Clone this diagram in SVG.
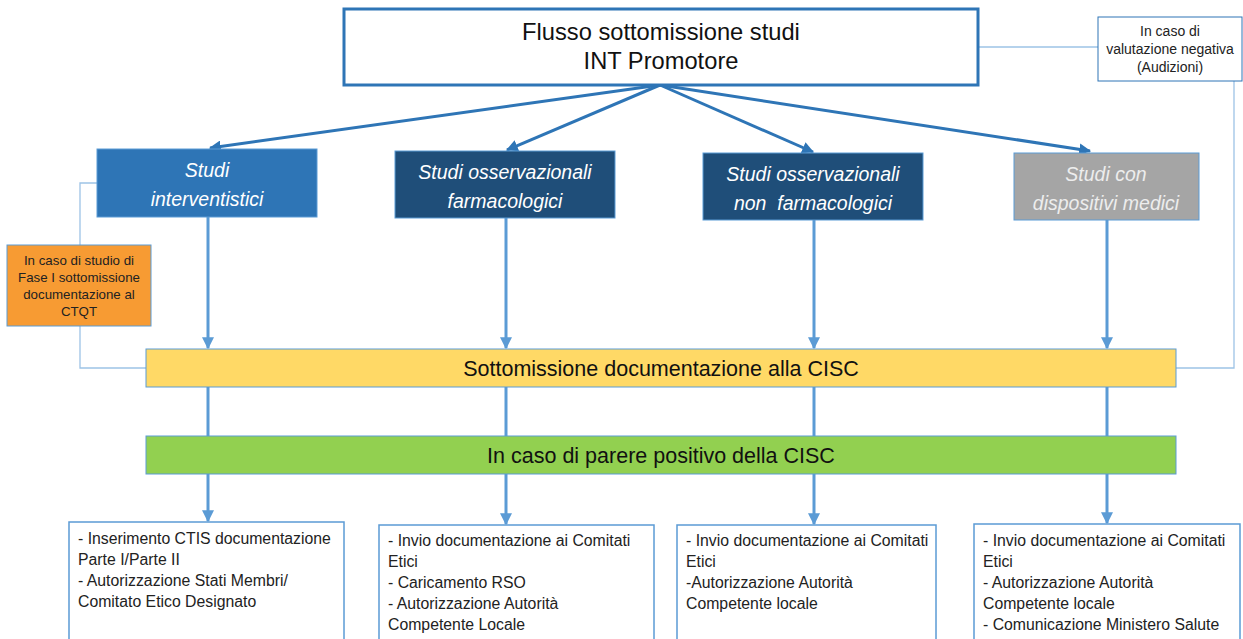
<svg xmlns="http://www.w3.org/2000/svg" width="1243" height="639" viewBox="0 0 1243 639">
<style>
.t{font-family:"Liberation Sans",Arial,sans-serif;}
.it{font-family:"Liberation Sans",Arial,sans-serif;font-style:italic;font-size:19.5px;fill:#fff;text-anchor:middle;}
.thin{fill:none;stroke:#9DC3E6;stroke-width:1.3;}
.top{fill:none;stroke:#2E75B6;stroke-width:3;}
.vert{fill:none;stroke:#5B9BD5;stroke-width:3;}
.box{fill:#fff;stroke:#5B9BD5;stroke-width:1.5;}
.bt{font-family:"Liberation Sans",Arial,sans-serif;font-size:15.8px;fill:#222;}
</style>
<defs>
<marker id="ah" viewBox="0 0 10 10" refX="9" refY="5" markerWidth="4" markerHeight="4" orient="auto" markerUnits="strokeWidth"><path d="M0,0 L10,5 L0,10 z" fill="#2E75B6"/></marker>
<marker id="av" viewBox="0 0 10 10" refX="9" refY="5" markerWidth="4" markerHeight="4" orient="auto" markerUnits="strokeWidth"><path d="M0,0 L10,5 L0,10 z" fill="#5B9BD5"/></marker>
</defs>
<rect width="1243" height="639" fill="#fff"/>
<g id="connectors">
<polyline class="thin" points="97,183 80,183 80,368 146,368"/>
<polyline class="thin" points="978,47 1098,47"/>
<polyline class="thin" points="1234,81 1234,368 1176,368"/>
<line class="top" x1="660" y1="85" x2="210" y2="148" marker-end="url(#ah)"/>
<line class="top" x1="660" y1="85" x2="507" y2="150" marker-end="url(#ah)"/>
<line class="top" x1="660" y1="85" x2="813" y2="152" marker-end="url(#ah)"/>
<line class="top" x1="660" y1="85" x2="1090" y2="151" marker-end="url(#ah)"/>
<line class="vert" x1="208" y1="217" x2="208" y2="348" marker-end="url(#av)"/>
<line class="vert" x1="506" y1="218" x2="506" y2="348" marker-end="url(#av)"/>
<line class="vert" x1="814" y1="220" x2="814" y2="348" marker-end="url(#av)"/>
<line class="vert" x1="1107" y1="220" x2="1107" y2="348" marker-end="url(#av)"/>
<line class="vert" x1="208" y1="387" x2="208" y2="436"/>
<line class="vert" x1="506" y1="387" x2="506" y2="436"/>
<line class="vert" x1="814" y1="387" x2="814" y2="436"/>
<line class="vert" x1="1107" y1="387" x2="1107" y2="436"/>
<line class="vert" x1="208" y1="474" x2="208" y2="521" marker-end="url(#av)"/>
<line class="vert" x1="506" y1="474" x2="506" y2="524" marker-end="url(#av)"/>
<line class="vert" x1="814" y1="474" x2="814" y2="524" marker-end="url(#av)"/>
<line class="vert" x1="1107" y1="474" x2="1107" y2="523" marker-end="url(#av)"/>
</g>
<g id="title">
<rect x="344" y="9" width="634" height="76" fill="#fff" stroke="#2E75B6" stroke-width="3"/>
<text class="t" x="661" y="40" font-size="23.7" text-anchor="middle" fill="#111">Flusso sottomissione studi</text>
<text class="t" x="661" y="69" font-size="23.7" text-anchor="middle" fill="#111">INT Promotore</text>
</g>
<g id="audizioni">
<rect x="1098" y="17" width="144" height="64" fill="#fff" stroke="#2E75B6" stroke-width="1"/>
<text class="t" x="1170" y="36" font-size="14" text-anchor="middle" fill="#222">In caso di</text>
<text class="t" x="1170" y="54" font-size="14" text-anchor="middle" fill="#222">valutazione negativa</text>
<text class="t" x="1170" y="72" font-size="14" text-anchor="middle" fill="#222">(Audizioni)</text>
</g>
<g id="interventistici">
<rect x="97" y="149" width="220" height="68" fill="#2E75B6" stroke="#5B9BD5" stroke-width="1"/>
<text class="it" x="207" y="177">Studi</text>
<text class="it" x="207" y="206">interventistici</text>
</g>
<g id="oss-farm">
<rect x="395" y="151" width="220" height="67" fill="#1F4E79" stroke="#5B9BD5" stroke-width="1"/>
<text class="it" x="505" y="179">Studi osservazionali</text>
<text class="it" x="505" y="208">farmacologici</text>
</g>
<g id="oss-nonfarm">
<rect x="703" y="153" width="220" height="67" fill="#1F4E79" stroke="#5B9BD5" stroke-width="1"/>
<text class="it" x="813" y="181">Studi osservazionali</text>
<text class="it" x="813" y="210" xml:space="preserve">non  farmacologici</text>
</g>
<g id="dispositivi">
<rect x="1014" y="153" width="185" height="67" fill="#A5A5A5" stroke="#5B9BD5" stroke-width="1"/>
<text class="it" x="1106" y="181" style="fill:#EDEDED">Studi con</text>
<text class="it" x="1106" y="210" style="fill:#EDEDED">dispositivi medici</text>
</g>
<g id="ctqt">
<rect x="7" y="245" width="144" height="81" fill="#F79B33" stroke="#5B9BD5" stroke-width="1"/>
<text class="t" x="79" y="265" font-size="13.3" text-anchor="middle" fill="#222">In caso di studio di</text>
<text class="t" x="79" y="282" font-size="13.3" text-anchor="middle" fill="#222">Fase I sottomissione</text>
<text class="t" x="79" y="299" font-size="13.3" text-anchor="middle" fill="#222">documentazione al</text>
<text class="t" x="79" y="316" font-size="13.3" text-anchor="middle" fill="#222">CTQT</text>
</g>
<g id="cisc">
<rect x="146" y="349" width="1030" height="38" fill="#FFD966" stroke="#5B9BD5" stroke-width="1"/>
<text class="t" x="661" y="376" font-size="21.5" text-anchor="middle" fill="#111">Sottomissione documentazione alla CISC</text>
</g>
<g id="parere">
<rect x="146" y="436" width="1030" height="38" fill="#92D050" stroke="#5B9BD5" stroke-width="1"/>
<text class="t" x="661" y="463" font-size="21.5" text-anchor="middle" fill="#111">In caso di parere positivo della CISC</text>
</g>
<g id="esito1">
<rect class="box" x="69" y="522" width="275" height="130"/>
<text class="bt" x="78" y="544">- Inserimento CTIS documentazione</text>
<text class="bt" x="78" y="565">Parte I/Parte II</text>
<text class="bt" x="78" y="586">- Autorizzazione Stati Membri/</text>
<text class="bt" x="78" y="607">Comitato Etico Designato</text>
</g>
<g id="esito2">
<rect class="box" x="379" y="525" width="275" height="130"/>
<text class="bt" x="388" y="546">- Invio documentazione ai Comitati</text>
<text class="bt" x="388" y="567">Etici</text>
<text class="bt" x="388" y="588">- Caricamento RSO</text>
<text class="bt" x="388" y="609">- Autorizzazione Autorità</text>
<text class="bt" x="388" y="630">Competente Locale</text>
</g>
<g id="esito3">
<rect class="box" x="677" y="525" width="259" height="130"/>
<text class="bt" x="686" y="546">- Invio documentazione ai Comitati</text>
<text class="bt" x="686" y="567">Etici</text>
<text class="bt" x="686" y="588">-Autorizzazione Autorità</text>
<text class="bt" x="686" y="609">Competente locale</text>
</g>
<g id="esito4">
<rect class="box" x="974" y="524" width="266" height="130"/>
<text class="bt" x="983" y="546">- Invio documentazione ai Comitati</text>
<text class="bt" x="983" y="567">Etici</text>
<text class="bt" x="983" y="588">- Autorizzazione Autorità</text>
<text class="bt" x="983" y="609">Competente locale</text>
<text class="bt" x="983" y="630">- Comunicazione Ministero Salute</text>
</g>
</svg>
